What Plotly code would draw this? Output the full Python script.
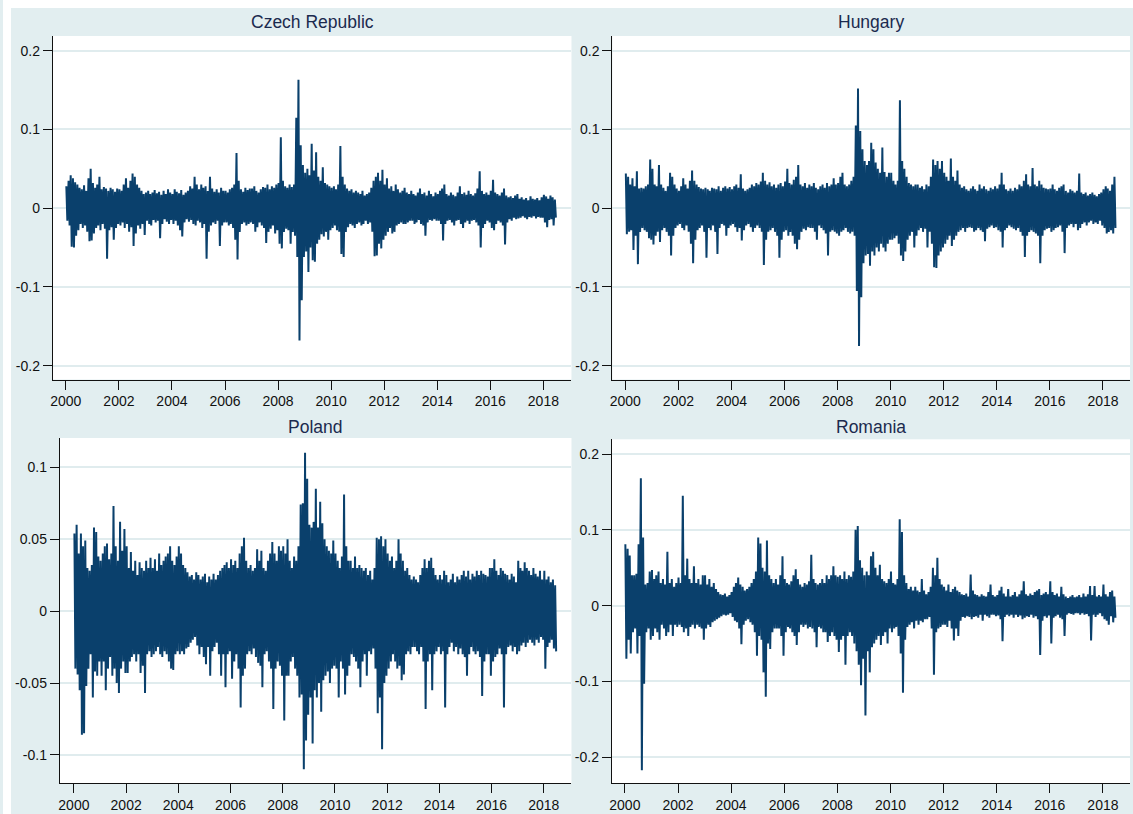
import pandas as pd
import plotly.graph_objects as go

# ---------------- data ----------------
# one high and one low reading per month, Jan 2000 .. Jun 2018
months = pd.date_range("2000-01-01", periods=222, freq="MS")

czech = [
    0.028,-0.016, 0.035,-0.022, 0.042,-0.049, 0.038,-0.050, 0.033,-0.035, 0.030,-0.028, 0.026,-0.020, 0.024,-0.025, 0.029,-0.022, 0.022,-0.030, 0.038,-0.042, 0.050,-0.041,
    0.032,-0.032, 0.026,-0.025, 0.030,-0.022, 0.040,-0.028, 0.024,-0.020, 0.027,-0.026, 0.025,-0.064, 0.022,-0.028, 0.026,-0.024, 0.024,-0.040, 0.021,-0.025, 0.025,-0.020,
    0.024,-0.022, 0.022,-0.018, 0.030,-0.025, 0.038,-0.020, 0.026,-0.030, 0.035,-0.024, 0.044,-0.048, 0.040,-0.032, 0.030,-0.022, 0.026,-0.026, 0.022,-0.020, 0.018,-0.034,
    0.020,-0.016, 0.022,-0.020, 0.018,-0.022, 0.020,-0.015, 0.023,-0.018, 0.019,-0.016, 0.021,-0.038, 0.017,-0.020, 0.022,-0.014, 0.018,-0.017, 0.024,-0.020, 0.020,-0.015,
    0.018,-0.020, 0.024,-0.016, 0.021,-0.022, 0.019,-0.028, 0.023,-0.036, 0.017,-0.018, 0.020,-0.014, 0.022,-0.017, 0.028,-0.015, 0.025,-0.020, 0.040,-0.022, 0.030,-0.016,
    0.024,-0.018, 0.030,-0.025, 0.026,-0.020, 0.028,-0.064, 0.022,-0.030, 0.040,-0.022, 0.025,-0.018, 0.021,-0.020, 0.024,-0.016, 0.020,-0.048, 0.026,-0.022, 0.022,-0.018,
    0.022,-0.018, 0.020,-0.022, 0.024,-0.020, 0.026,-0.025, 0.030,-0.040, 0.070,-0.065, 0.035,-0.030, 0.024,-0.020, 0.021,-0.018, 0.026,-0.022, 0.023,-0.020, 0.025,-0.018,
    0.025,-0.020, 0.028,-0.030, 0.022,-0.024, 0.020,-0.018, 0.024,-0.022, 0.027,-0.025, 0.026,-0.044, 0.030,-0.030, 0.024,-0.026, 0.028,-0.022, 0.026,-0.032, 0.030,-0.028,
    0.032,-0.045, 0.090,-0.051, 0.035,-0.030, 0.028,-0.026, 0.026,-0.028, 0.030,-0.045, 0.027,-0.030, 0.030,-0.035, 0.115,-0.062, 0.163,-0.168, 0.080,-0.117, 0.055,-0.062,
    0.045,-0.055, 0.050,-0.081, 0.042,-0.050, 0.082,-0.066, 0.048,-0.068, 0.071,-0.045, 0.040,-0.040, 0.035,-0.033, 0.052,-0.036, 0.032,-0.030, 0.030,-0.040, 0.028,-0.028,
    0.026,-0.025, 0.028,-0.022, 0.024,-0.028, 0.030,-0.030, 0.079,-0.058, 0.040,-0.062, 0.030,-0.030, 0.025,-0.024, 0.022,-0.020, 0.024,-0.022, 0.020,-0.025, 0.022,-0.020,
    0.020,-0.018, 0.018,-0.022, 0.022,-0.020, 0.016,-0.016, 0.018,-0.020, 0.020,-0.018, 0.026,-0.030, 0.035,-0.061, 0.040,-0.060, 0.045,-0.045, 0.035,-0.051, 0.049,-0.040,
    0.030,-0.035, 0.038,-0.030, 0.025,-0.025, 0.028,-0.032, 0.022,-0.030, 0.030,-0.022, 0.024,-0.020, 0.020,-0.018, 0.022,-0.020, 0.026,-0.020, 0.020,-0.018, 0.018,-0.016,
    0.022,-0.016, 0.018,-0.020, 0.016,-0.018, 0.020,-0.015, 0.025,-0.020, 0.018,-0.022, 0.020,-0.035, 0.016,-0.018, 0.022,-0.015, 0.018,-0.016, 0.015,-0.014, 0.020,-0.016,
    0.018,-0.016, 0.022,-0.020, 0.025,-0.041, 0.030,-0.020, 0.018,-0.016, 0.016,-0.015, 0.020,-0.018, 0.017,-0.022, 0.015,-0.016, 0.020,-0.015, 0.028,-0.020, 0.018,-0.025,
    0.020,-0.018, 0.017,-0.016, 0.022,-0.020, 0.018,-0.016, 0.016,-0.015, 0.019,-0.018, 0.025,-0.022, 0.047,-0.050, 0.022,-0.025, 0.018,-0.020, 0.020,-0.016, 0.017,-0.018,
    0.022,-0.025, 0.036,-0.028, 0.020,-0.020, 0.018,-0.016, 0.016,-0.018, 0.020,-0.022, 0.025,-0.046, 0.016,-0.018, 0.014,-0.014, 0.015,-0.016, 0.013,-0.012, 0.016,-0.014,
    0.018,-0.013, 0.012,-0.012, 0.014,-0.010, 0.011,-0.012, 0.013,-0.014, 0.010,-0.011, 0.015,-0.012, 0.012,-0.010, 0.011,-0.013, 0.013,-0.011, 0.010,-0.012, 0.014,-0.012,
    0.017,-0.018, 0.015,-0.024, 0.012,-0.015, 0.016,-0.014, 0.014,-0.022, 0.011,-0.012,
]

hungary = [
    0.044,-0.033, 0.040,-0.030, 0.030,-0.028, 0.038,-0.053, 0.028,-0.035, 0.047,-0.071, 0.025,-0.030, 0.026,-0.025, 0.025,-0.028, 0.028,-0.030, 0.030,-0.038, 0.062,-0.040,
    0.050,-0.046, 0.030,-0.035, 0.028,-0.030, 0.055,-0.043, 0.030,-0.028, 0.026,-0.025, 0.022,-0.030, 0.028,-0.035, 0.045,-0.060, 0.040,-0.035, 0.030,-0.025, 0.025,-0.022,
    0.022,-0.020, 0.028,-0.025, 0.038,-0.028, 0.030,-0.022, 0.025,-0.030, 0.035,-0.045, 0.048,-0.070, 0.035,-0.040, 0.030,-0.028, 0.027,-0.025, 0.025,-0.022, 0.024,-0.030,
    0.026,-0.063, 0.024,-0.025, 0.022,-0.028, 0.026,-0.022, 0.025,-0.030, 0.024,-0.058, 0.028,-0.025, 0.022,-0.020, 0.026,-0.022, 0.028,-0.035, 0.025,-0.025, 0.027,-0.022,
    0.024,-0.020, 0.028,-0.024, 0.030,-0.030, 0.026,-0.025, 0.043,-0.041, 0.025,-0.028, 0.022,-0.022, 0.024,-0.020, 0.026,-0.024, 0.030,-0.030, 0.028,-0.025, 0.032,-0.022,
    0.030,-0.025, 0.034,-0.030, 0.045,-0.072, 0.035,-0.040, 0.030,-0.030, 0.033,-0.028, 0.028,-0.025, 0.030,-0.030, 0.026,-0.035, 0.030,-0.063, 0.032,-0.040, 0.028,-0.030,
    0.034,-0.028, 0.050,-0.035, 0.032,-0.030, 0.030,-0.035, 0.036,-0.045, 0.040,-0.052, 0.055,-0.040, 0.030,-0.030, 0.028,-0.026, 0.032,-0.028, 0.026,-0.024, 0.030,-0.025,
    0.028,-0.025, 0.032,-0.030, 0.026,-0.040, 0.024,-0.022, 0.028,-0.025, 0.030,-0.028, 0.026,-0.032, 0.032,-0.060, 0.028,-0.030, 0.030,-0.028, 0.038,-0.030, 0.030,-0.032,
    0.032,-0.035, 0.040,-0.030, 0.045,-0.028, 0.030,-0.025, 0.028,-0.030, 0.030,-0.032, 0.035,-0.030, 0.040,-0.035, 0.105,-0.105, 0.152,-0.175, 0.098,-0.113, 0.075,-0.070,
    0.060,-0.060, 0.055,-0.058, 0.060,-0.073, 0.083,-0.055, 0.075,-0.060, 0.058,-0.050, 0.050,-0.055, 0.045,-0.045, 0.077,-0.050, 0.046,-0.055, 0.040,-0.045, 0.045,-0.040,
    0.045,-0.040, 0.035,-0.038, 0.030,-0.035, 0.035,-0.045, 0.137,-0.060, 0.060,-0.067, 0.050,-0.055, 0.040,-0.040, 0.032,-0.035, 0.030,-0.030, 0.028,-0.050, 0.030,-0.035,
    0.030,-0.028, 0.026,-0.025, 0.028,-0.030, 0.024,-0.026, 0.030,-0.050, 0.028,-0.030, 0.040,-0.045, 0.062,-0.075, 0.055,-0.076, 0.060,-0.060, 0.050,-0.055, 0.060,-0.050,
    0.045,-0.045, 0.040,-0.040, 0.035,-0.035, 0.063,-0.048, 0.040,-0.040, 0.035,-0.035, 0.048,-0.030, 0.030,-0.028, 0.026,-0.025, 0.028,-0.030, 0.024,-0.025, 0.022,-0.024,
    0.025,-0.025, 0.028,-0.030, 0.024,-0.028, 0.022,-0.025, 0.030,-0.028, 0.025,-0.030, 0.028,-0.042, 0.024,-0.026, 0.022,-0.024, 0.026,-0.022, 0.024,-0.025, 0.028,-0.024,
    0.025,-0.028, 0.030,-0.030, 0.045,-0.050, 0.030,-0.028, 0.024,-0.025, 0.022,-0.022, 0.025,-0.024, 0.022,-0.026, 0.026,-0.028, 0.024,-0.025, 0.030,-0.030, 0.028,-0.035,
    0.035,-0.062, 0.043,-0.035, 0.030,-0.030, 0.028,-0.028, 0.051,-0.030, 0.030,-0.032, 0.028,-0.035, 0.035,-0.070, 0.030,-0.035, 0.026,-0.028, 0.025,-0.026, 0.024,-0.025,
    0.025,-0.030, 0.030,-0.028, 0.024,-0.025, 0.022,-0.024, 0.026,-0.022, 0.028,-0.030, 0.030,-0.057, 0.022,-0.025, 0.020,-0.022, 0.024,-0.020, 0.022,-0.024, 0.020,-0.020,
    0.022,-0.028, 0.044,-0.025, 0.020,-0.020, 0.018,-0.018, 0.020,-0.022, 0.016,-0.018, 0.018,-0.016, 0.020,-0.020, 0.017,-0.018, 0.015,-0.020, 0.018,-0.016, 0.020,-0.022,
    0.024,-0.025, 0.028,-0.032, 0.025,-0.030, 0.022,-0.028, 0.030,-0.032, 0.040,-0.025,
]

poland = [
    0.054,-0.040, 0.060,-0.044, 0.040,-0.055, 0.054,-0.086, 0.045,-0.085, 0.049,-0.052, 0.030,-0.040, 0.028,-0.030, 0.032,-0.060, 0.058,-0.042, 0.055,-0.045, 0.038,-0.035,
    0.035,-0.045, 0.040,-0.035, 0.045,-0.055, 0.047,-0.040, 0.036,-0.032, 0.040,-0.045, 0.073,-0.040, 0.045,-0.050, 0.035,-0.057, 0.062,-0.040, 0.042,-0.035, 0.057,-0.043,
    0.045,-0.043, 0.030,-0.035, 0.041,-0.032, 0.028,-0.030, 0.035,-0.035, 0.025,-0.030, 0.034,-0.043, 0.030,-0.038, 0.028,-0.057, 0.035,-0.030, 0.030,-0.028, 0.037,-0.032,
    0.030,-0.030, 0.036,-0.028, 0.028,-0.025, 0.040,-0.030, 0.032,-0.032, 0.035,-0.028, 0.038,-0.030, 0.040,-0.035, 0.045,-0.040, 0.035,-0.041, 0.032,-0.030, 0.038,-0.028,
    0.045,-0.030, 0.040,-0.028, 0.032,-0.030, 0.030,-0.026, 0.027,-0.025, 0.024,-0.022, 0.025,-0.020, 0.022,-0.018, 0.027,-0.024, 0.025,-0.030, 0.022,-0.025, 0.024,-0.032,
    0.026,-0.037, 0.020,-0.025, 0.024,-0.045, 0.022,-0.028, 0.026,-0.025, 0.022,-0.022, 0.025,-0.030, 0.028,-0.045, 0.030,-0.030, 0.032,-0.053, 0.034,-0.030, 0.030,-0.028,
    0.036,-0.047, 0.032,-0.035, 0.035,-0.030, 0.030,-0.040, 0.040,-0.067, 0.045,-0.045, 0.051,-0.040, 0.035,-0.030, 0.030,-0.028, 0.032,-0.030, 0.028,-0.026, 0.030,-0.032,
    0.043,-0.036, 0.035,-0.038, 0.042,-0.053, 0.030,-0.030, 0.028,-0.028, 0.035,-0.035, 0.040,-0.040, 0.048,-0.068, 0.040,-0.040, 0.035,-0.035, 0.045,-0.038, 0.042,-0.045,
    0.045,-0.076, 0.040,-0.045, 0.050,-0.045, 0.035,-0.035, 0.030,-0.032, 0.038,-0.040, 0.035,-0.045, 0.045,-0.060, 0.074,-0.058, 0.075,-0.110, 0.110,-0.090, 0.092,-0.072,
    0.060,-0.060, 0.058,-0.092, 0.062,-0.055, 0.085,-0.060, 0.058,-0.050, 0.076,-0.070, 0.061,-0.048, 0.050,-0.045, 0.045,-0.042, 0.042,-0.050, 0.040,-0.040, 0.049,-0.038,
    0.040,-0.040, 0.035,-0.060, 0.030,-0.035, 0.038,-0.040, 0.081,-0.058, 0.045,-0.045, 0.035,-0.038, 0.035,-0.030, 0.030,-0.032, 0.038,-0.035, 0.030,-0.040, 0.032,-0.053,
    0.030,-0.035, 0.028,-0.030, 0.030,-0.045, 0.025,-0.028, 0.028,-0.030, 0.022,-0.026, 0.030,-0.040, 0.051,-0.071, 0.050,-0.060, 0.052,-0.096, 0.045,-0.050, 0.050,-0.045,
    0.040,-0.040, 0.035,-0.035, 0.038,-0.030, 0.030,-0.035, 0.035,-0.040, 0.050,-0.038, 0.040,-0.048, 0.035,-0.044, 0.028,-0.030, 0.030,-0.028, 0.025,-0.030, 0.022,-0.025,
    0.024,-0.025, 0.022,-0.028, 0.020,-0.030, 0.025,-0.025, 0.030,-0.035, 0.036,-0.068, 0.030,-0.035, 0.035,-0.030, 0.037,-0.055, 0.030,-0.030, 0.025,-0.028, 0.022,-0.025,
    0.025,-0.030, 0.022,-0.028, 0.028,-0.067, 0.025,-0.030, 0.020,-0.025, 0.022,-0.022, 0.026,-0.028, 0.020,-0.025, 0.024,-0.030, 0.022,-0.026, 0.025,-0.030, 0.028,-0.032,
    0.024,-0.045, 0.028,-0.030, 0.022,-0.025, 0.026,-0.028, 0.024,-0.030, 0.028,-0.028, 0.025,-0.032, 0.028,-0.059, 0.026,-0.035, 0.025,-0.030, 0.024,-0.030, 0.030,-0.045,
    0.030,-0.035, 0.036,-0.032, 0.028,-0.030, 0.025,-0.026, 0.030,-0.030, 0.028,-0.067, 0.026,-0.030, 0.025,-0.025, 0.022,-0.024, 0.026,-0.028, 0.024,-0.025, 0.020,-0.030,
    0.035,-0.028, 0.030,-0.024, 0.028,-0.022, 0.034,-0.025, 0.030,-0.022, 0.028,-0.020, 0.025,-0.022, 0.030,-0.024, 0.026,-0.020, 0.024,-0.022, 0.028,-0.018, 0.022,-0.020,
    0.028,-0.040, 0.022,-0.025, 0.024,-0.022, 0.020,-0.020, 0.022,-0.026, 0.018,-0.028,
]

romania = [
    0.081,-0.070, 0.075,-0.045, 0.066,-0.063, 0.040,-0.035, 0.040,-0.030, 0.042,-0.063, 0.081,-0.040, 0.168,-0.217, 0.090,-0.103, 0.028,-0.035, 0.030,-0.030, 0.045,-0.045,
    0.047,-0.040, 0.035,-0.030, 0.040,-0.035, 0.045,-0.045, 0.030,-0.025, 0.035,-0.030, 0.028,-0.040, 0.071,-0.035, 0.030,-0.025, 0.035,-0.040, 0.025,-0.025, 0.030,-0.028,
    0.037,-0.025, 0.030,-0.028, 0.145,-0.035, 0.040,-0.030, 0.062,-0.040, 0.035,-0.028, 0.030,-0.025, 0.052,-0.030, 0.030,-0.025, 0.035,-0.028, 0.028,-0.030, 0.040,-0.045,
    0.040,-0.030, 0.028,-0.025, 0.035,-0.028, 0.025,-0.022, 0.030,-0.020, 0.022,-0.018, 0.018,-0.016, 0.015,-0.014, 0.014,-0.012, 0.016,-0.013, 0.012,-0.012, 0.014,-0.010,
    0.018,-0.015, 0.025,-0.020, 0.030,-0.022, 0.037,-0.030, 0.028,-0.051, 0.025,-0.025, 0.020,-0.020, 0.022,-0.018, 0.025,-0.022, 0.030,-0.025, 0.035,-0.035, 0.045,-0.066,
    0.090,-0.040, 0.082,-0.045, 0.050,-0.088, 0.045,-0.120, 0.086,-0.050, 0.040,-0.057, 0.035,-0.035, 0.030,-0.030, 0.035,-0.030, 0.028,-0.030, 0.040,-0.040, 0.065,-0.066,
    0.035,-0.035, 0.030,-0.028, 0.028,-0.030, 0.032,-0.035, 0.040,-0.040, 0.048,-0.052, 0.035,-0.035, 0.028,-0.025, 0.025,-0.028, 0.030,-0.025, 0.028,-0.030, 0.032,-0.028,
    0.067,-0.030, 0.035,-0.035, 0.030,-0.055, 0.028,-0.028, 0.030,-0.030, 0.035,-0.035, 0.030,-0.035, 0.040,-0.048, 0.035,-0.040, 0.040,-0.035, 0.052,-0.040, 0.040,-0.045,
    0.038,-0.061, 0.040,-0.045, 0.035,-0.040, 0.045,-0.078, 0.035,-0.040, 0.040,-0.035, 0.038,-0.040, 0.045,-0.050, 0.100,-0.060, 0.105,-0.078, 0.060,-0.105, 0.050,-0.070,
    0.040,-0.145, 0.045,-0.060, 0.040,-0.088, 0.065,-0.055, 0.071,-0.050, 0.050,-0.045, 0.040,-0.040, 0.054,-0.052, 0.035,-0.040, 0.032,-0.035, 0.030,-0.050, 0.035,-0.030,
    0.045,-0.035, 0.030,-0.030, 0.028,-0.028, 0.035,-0.040, 0.114,-0.063, 0.097,-0.115, 0.040,-0.045, 0.030,-0.028, 0.022,-0.025, 0.025,-0.022, 0.020,-0.030, 0.025,-0.020,
    0.020,-0.025, 0.018,-0.020, 0.035,-0.022, 0.020,-0.018, 0.015,-0.018, 0.018,-0.015, 0.025,-0.030, 0.050,-0.091, 0.040,-0.035, 0.063,-0.030, 0.035,-0.028, 0.028,-0.025,
    0.025,-0.025, 0.020,-0.028, 0.028,-0.020, 0.018,-0.030, 0.022,-0.046, 0.025,-0.030, 0.020,-0.040, 0.018,-0.020, 0.015,-0.015, 0.014,-0.016, 0.016,-0.014, 0.012,-0.015,
    0.041,-0.018, 0.020,-0.015, 0.015,-0.014, 0.014,-0.016, 0.012,-0.012, 0.015,-0.020, 0.013,-0.012, 0.012,-0.014, 0.018,-0.016, 0.028,-0.012, 0.014,-0.012, 0.012,-0.014,
    0.014,-0.013, 0.020,-0.018, 0.025,-0.047, 0.016,-0.015, 0.012,-0.012, 0.022,-0.014, 0.012,-0.012, 0.014,-0.016, 0.018,-0.012, 0.012,-0.015, 0.015,-0.013, 0.020,-0.018,
    0.032,-0.016, 0.015,-0.014, 0.013,-0.015, 0.016,-0.012, 0.014,-0.016, 0.018,-0.014, 0.020,-0.018, 0.022,-0.065, 0.014,-0.020, 0.016,-0.014, 0.018,-0.016, 0.015,-0.013,
    0.032,-0.050, 0.018,-0.016, 0.014,-0.014, 0.016,-0.012, 0.012,-0.016, 0.025,-0.018, 0.015,-0.040, 0.012,-0.012, 0.010,-0.010, 0.012,-0.011, 0.014,-0.012, 0.011,-0.010,
    0.012,-0.010, 0.014,-0.012, 0.011,-0.010, 0.016,-0.012, 0.012,-0.011, 0.015,-0.014, 0.026,-0.046, 0.014,-0.012, 0.026,-0.015, 0.012,-0.012, 0.014,-0.010, 0.012,-0.014,
    0.028,-0.018, 0.015,-0.020, 0.012,-0.025, 0.018,-0.014, 0.020,-0.022, 0.012,-0.016,
]

countries = ["Czech Republic", "Hungary", "Poland", "Romania"]
series = [czech, hungary, poland, romania]
year_ticks = list(range(2000, 2019, 2))
y_ticks = [
    [-0.2, -0.1, 0, 0.1, 0.2],
    [-0.2, -0.1, 0, 0.1, 0.2],
    [-0.1, -0.05, 0, 0.05, 0.1],
    [-0.2, -0.1, 0, 0.1, 0.2],
]
y_ticktext = [
    ["-0.2", "-0.1", "0", "0.1", "0.2"],
    ["-0.2", "-0.1", "0", "0.1", "0.2"],
    ["-0.1", "-0.05", "0", "0.05", "0.1"],
    ["-0.2", "-0.1", "0", "0.1", "0.2"],
]

for s in series:
    assert len(s) == 2 * len(months), len(s)

# ---------------- layout / style ----------------
W, H = 1133, 814
BG = "#E2EEF0"
GRID = "#E0ECEE"
LINE = "#0A406C"
FONT = "Liberation Sans, Arial, sans-serif"
TICKFONT = dict(family=FONT, size=14, color="#111111")

# pixel boxes of the four plot areas: (left, right, top, bottom)
boxes = [(50, 570, 36, 379.5), (611, 1130, 36, 379.5),
         (57, 570, 438, 783), (610.5, 1130, 439.3, 783.3)]
x_ranges = [(1999.511, 2019.06), (1999.511, 2019.02),
            (1999.461, 2019.06), (1999.511, 2019.02)]
y_ranges = [(-0.2175, 0.2187), (-0.2175, 0.2187),
            (-0.1195, 0.1203), (-0.2343, 0.2194)]
title_pos = [(310, 22), (870, 22), (313, 427), (870, 427)]


def yr2date(v):
    y = int(v // 1)
    d = pd.Timestamp(y, 1, 1) + pd.Timedelta(days=(v - y) * 365.25)
    return d.strftime("%Y-%m-%d %H:%M")


x_dates = []
for m in months:
    x_dates.append(m + pd.Timedelta(days=7))
    x_dates.append(m + pd.Timedelta(days=21))

fig = go.Figure()
layout = dict(
    width=W, height=H, margin=dict(l=0, r=0, t=0, b=0),
    paper_bgcolor=BG, plot_bgcolor="white", showlegend=False,
    font=dict(family=FONT, size=14, color="#111111"),
    annotations=[], shapes=[],
)

for i, (name, vals) in enumerate(zip(countries, series)):
    n = "" if i == 0 else str(i + 1)
    fig.add_trace(go.Scatter(
        x=x_dates, y=vals, mode="lines",
        line=dict(color=LINE, width=2.0),
        xaxis="x" + n, yaxis="y" + n, hoverinfo="skip",
    ))
    l, r, t, b = boxes[i]
    layout["xaxis" + n] = dict(
        domain=[l / W, r / W], anchor="y" + n,
        range=[yr2date(x_ranges[i][0]), yr2date(x_ranges[i][1])],
        tickmode="array",
        tickvals=[f"{y}-01-01" for y in year_ticks],
        ticktext=[str(y) for y in year_ticks],
        ticks="outside", ticklen=9, tickwidth=1.2, tickcolor="#111111",
        showline=True, linecolor="#111111", linewidth=1.2,
        showgrid=False, zeroline=False, tickfont=TICKFONT,
    )
    layout["yaxis" + n] = dict(
        domain=[(H - b) / H, (H - t) / H], anchor="x" + n,
        range=list(y_ranges[i]),
        tickmode="array", tickvals=y_ticks[i], ticktext=y_ticktext[i],
        ticks="outside", ticklen=9, tickwidth=1.2, tickcolor="#111111",
        showline=True, linecolor="#111111", linewidth=1.2,
        showgrid=True, gridcolor=GRID, gridwidth=2, zeroline=False,
        tickfont=TICKFONT,
    )
    cx, cy = title_pos[i]
    layout["annotations"].append(dict(
        text=name, x=cx / W, y=(H - cy) / H, xref="paper", yref="paper",
        xanchor="center", yanchor="middle", showarrow=False,
        font=dict(family=FONT, size=17.5, color="#1B2A4E"),
    ))

# white outer margin at top and left
layout["shapes"] = [
    dict(type="rect", xref="paper", yref="paper", x0=0, x1=8 / W, y0=0, y1=1,
         fillcolor="white", line=dict(width=0), layer="below"),
    dict(type="rect", xref="paper", yref="paper", x0=0, x1=1, y0=(H - 8) / H, y1=1,
         fillcolor="white", line=dict(width=0), layer="below"),
]

fig.update_layout(**layout)
fig.write_html("out.html", config={"displayModeBar": False},
               post_script="document.body.style.margin='0';document.body.style.overflow='hidden';")
